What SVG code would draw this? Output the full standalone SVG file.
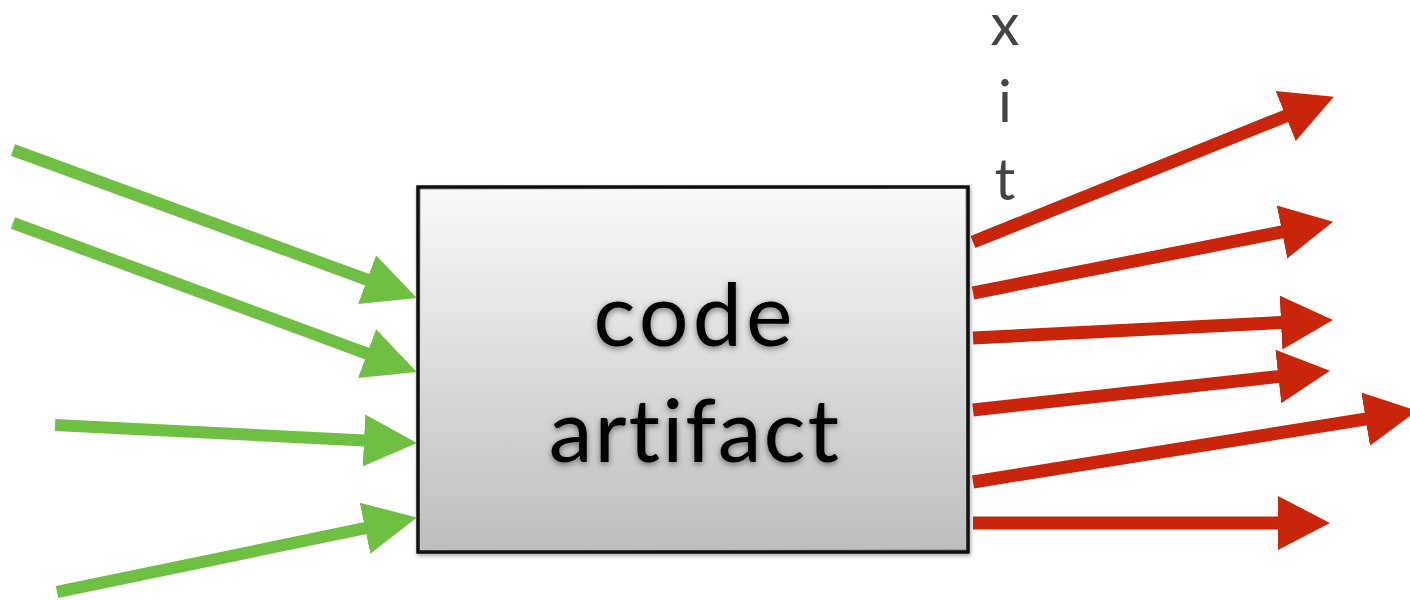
<svg xmlns="http://www.w3.org/2000/svg" width="1410" height="600" viewBox="0 0 1410 600">
<defs>
<linearGradient id="boxfill" x1="0" y1="0" x2="0" y2="1">
<stop offset="0" stop-color="#f9f9f9"/>
<stop offset="1" stop-color="#bdbdbd"/>
</linearGradient>
<filter id="tshadow" x="-10%" y="-20%" width="120%" height="140%">
<feDropShadow dx="0" dy="2" stdDeviation="3" flood-color="#000" flood-opacity="0.5"/>
</filter>
<filter id="bshadow" x="-5%" y="-5%" width="110%" height="110%">
<feDropShadow dx="1" dy="2" stdDeviation="2" flood-color="#000" flood-opacity="0.35"/>
</filter>
<marker id="gh" markerUnits="userSpaceOnUse" markerWidth="60" markerHeight="60" viewBox="0 -30 60 60" refX="1" refY="0" orient="auto">
<path d="M0,-26 L53,0 L0,26 z" fill="#6fbf43"/>
</marker>
<marker id="rh" markerUnits="userSpaceOnUse" markerWidth="60" markerHeight="60" viewBox="0 -30 60 60" refX="1" refY="0" orient="auto">
<path d="M0,-27 L52,0 L0,27 z" fill="#c8250a"/>
</marker>
</defs>
<style>
.g{stroke:#6fbf43;stroke-width:12;fill:none;marker-end:url(#gh)}
.r{stroke:#c8250a;stroke-width:13;fill:none;marker-end:url(#rh)}
.lbl{font-family:Lato,"Open Sans","Liberation Sans",sans-serif;font-size:88px;fill:#000;text-anchor:middle;font-variant-ligatures:none}
.ex{font-family:Lato,"Open Sans","Liberation Sans",sans-serif;font-weight:400;font-size:58px;fill:#444;text-anchor:middle}
</style>
<rect width="1410" height="600" fill="#fff"/>
<g id="node-code-artifact">
<rect x="418" y="187" width="550" height="365" fill="url(#boxfill)" stroke="#111" stroke-width="3.5" filter="url(#bshadow)"/>
<path d="M420,189 L966,188 L967,550 L419,551 Z" fill="none" stroke="#333" stroke-width="1" opacity="0.6"/>
<g filter="url(#tshadow)">
<text class="lbl" x="695" y="346" letter-spacing="4">code</text>
<text class="lbl" x="695" y="462" letter-spacing="2">artifact</text>
</g>
</g>
<g id="label-exit">
<text class="ex" x="1005" y="45">x</text>
<text class="ex" x="1005" y="122">i</text>
<text class="ex" x="1005" y="200">t</text>
</g>
<g id="connectors">
<path class="g" d="M13,150 L368,280"/>
<path class="g" d="M13,223 L368,354"/>
<path class="g" d="M55,425 L365,440.5"/>
<path class="g" d="M57,592 L366,528"/>
<path class="r" d="M973,242 L1286.6,115.7"/>
<path class="r" d="M973,293 L1283,231.7"/>
<path class="r" d="M973,338 L1282,322.5"/>
<path class="r" d="M973,410 L1279.3,376.4"/>
<path class="r" d="M973,482 L1366.6,418.9"/>
<path class="r" d="M973,523 L1279,523"/>
</g>
</svg>
